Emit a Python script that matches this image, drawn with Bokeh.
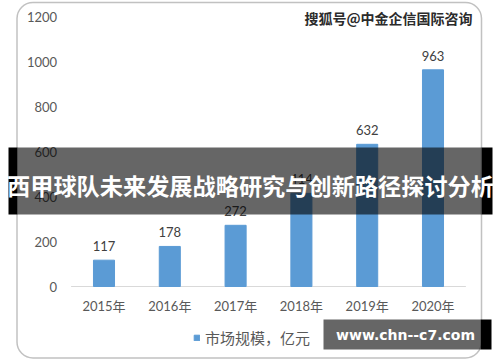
from bokeh.plotting import figure
from bokeh.models import Range1d, BoxAnnotation, Label, Legend, LegendItem
from bokeh.embed import file_html
from bokeh.resources import INLINE

# ---- data ----
years = ["2015年", "2016年", "2017年", "2018年", "2019年", "2020年"]
values = [117, 178, 272, 414, 632, 963]
y_ticks = [0, 200, 400, 600, 800, 1000, 1200]
series_name = "市场规模，亿元"
title_text = "西甲球队未来发展战略研究与创新路径探讨分析"
watermark_text = "搜狐号@中金企信国际咨询"
url_text = "www.chn--c7.com"

BAR = "#5B9BD5"
GREY_TXT = "#595959"
NUM_FONT = "Lato, 'Noto Sans CJK SC'"
CJK_FONT = "'Noto Sans CJK SC'"

# ---- geometry (canvas pixels); plot area of the bars ----
W, H = 500, 362
AREA_L, AREA_R = 70.6, 465.4      # x pixels of category band 0 .. n
AREA_B, AREA_T = 286.0, 16.0      # y pixels of value 0 .. 1200
XMAX, YMAX = len(years), 1200
PX_X = (AREA_R - AREA_L) / XMAX
PX_Y = (AREA_B - AREA_T) / YMAX

def dx(px):  # canvas x -> data x
    return (px - AREA_L) / PX_X

def dy(py):  # canvas y -> data y
    return (AREA_B - py) / PX_Y

xs = [i + 0.5 for i in range(len(years))]

p = figure(width=W, height=H, output_backend="svg", toolbar_location=None,
           x_range=Range1d(dx(0), dx(W)), y_range=Range1d(dy(H), dy(0)),
           min_border=0, min_border_left=0, min_border_right=0,
           min_border_top=0, min_border_bottom=0)
p.axis.visible = False
p.outline_line_color = None
p.grid.visible = False
p.background_fill_color = "white"
p.border_fill_color = "white"

# rounded frame border
p.add_layout(BoxAnnotation(left=dx(16.5), right=dx(481), top=dy(2), bottom=dy(357.5),
                           fill_alpha=0, line_color="#333333", line_width=1.5,
                           border_radius=16, level="underlay"))

# category axis baseline
p.segment(x0=[0], x1=[XMAX], y0=[0], y1=[0], line_color="#D9D9D9", line_width=1)

# y tick labels
p.text(x=[0] * len(y_ticks), y=y_ticks, text=[str(t) for t in y_ticks],
       x_offset=-14, text_align="right", text_baseline="middle",
       text_font={"value": NUM_FONT}, text_font_size="13px", text_color=GREY_TXT)
# x tick labels
p.text(x=xs, y=[0] * len(xs), text=years, y_offset=19, text_align="center",
       text_baseline="middle", text_font={"value": NUM_FONT}, text_font_size="13px",
       text_color=GREY_TXT)

bars = p.vbar(x=xs, top=values, width=0.32, color=BAR)
p.text(x=xs, y=values, text=[str(v) for v in values], text_align="center",
       text_baseline="middle", y_offset=-14, text_font_size="13px",
       text_color="#404040", text_font={"value": NUM_FONT})

legend = Legend(items=[LegendItem(label=series_name, renderers=[bars])],
                location=(193, 14), padding=0, margin=0, spacing=0,
                glyph_width=7, glyph_height=7, label_standoff=5,
                border_line_color=None, background_fill_alpha=0,
                label_text_font=CJK_FONT, label_text_font_size="15px",
                label_text_color=GREY_TXT)
p.add_layout(legend, "center")

# watermark
p.add_layout(Label(x=dx(472), y=dy(17), text=watermark_text, text_align="right",
                   text_baseline="middle", text_font=CJK_FONT, text_font_size="14px",
                   text_font_style="bold", text_color="#2b2b2b"))

# dark band + title
p.add_layout(BoxAnnotation(left=dx(17), right=dx(481), top=dy(147), bottom=dy(214),
                           fill_color="black", fill_alpha=0.6, line_color=None, level="overlay"))
p.add_layout(BoxAnnotation(left=dx(8), right=dx(17), top=dy(147), bottom=dy(214),
                           fill_color="black", fill_alpha=1, line_color=None, level="overlay"))
p.add_layout(BoxAnnotation(left=dx(481), right=dx(492), top=dy(147), bottom=dy(214),
                           fill_color="black", fill_alpha=1, line_color=None, level="overlay"))
p.add_layout(Label(x=dx(250), y=dy(184), text=title_text, text_align="center",
                   text_baseline="middle", text_font=CJK_FONT, text_font_size="23.2px",
                   text_font_style="bold", text_color="white", level="overlay"))

# url box
p.add_layout(BoxAnnotation(left=dx(323), right=dx(480), top=dy(319), bottom=dy(349),
                           fill_color="black", fill_alpha=0.6, line_color=None, level="overlay"))
p.add_layout(BoxAnnotation(left=dx(480), right=dx(491), top=dy(319), bottom=dy(349),
                           fill_color="black", fill_alpha=1, line_color=None, level="overlay"))
p.add_layout(Label(x=dx(405), y=dy(334), text=url_text, text_align="center",
                   text_baseline="middle", text_font="'DejaVu Sans'", text_font_size="14px",
                   text_font_style="bold", text_color="white", level="overlay"))

open("out.html", "w").write(file_html(p, INLINE))
